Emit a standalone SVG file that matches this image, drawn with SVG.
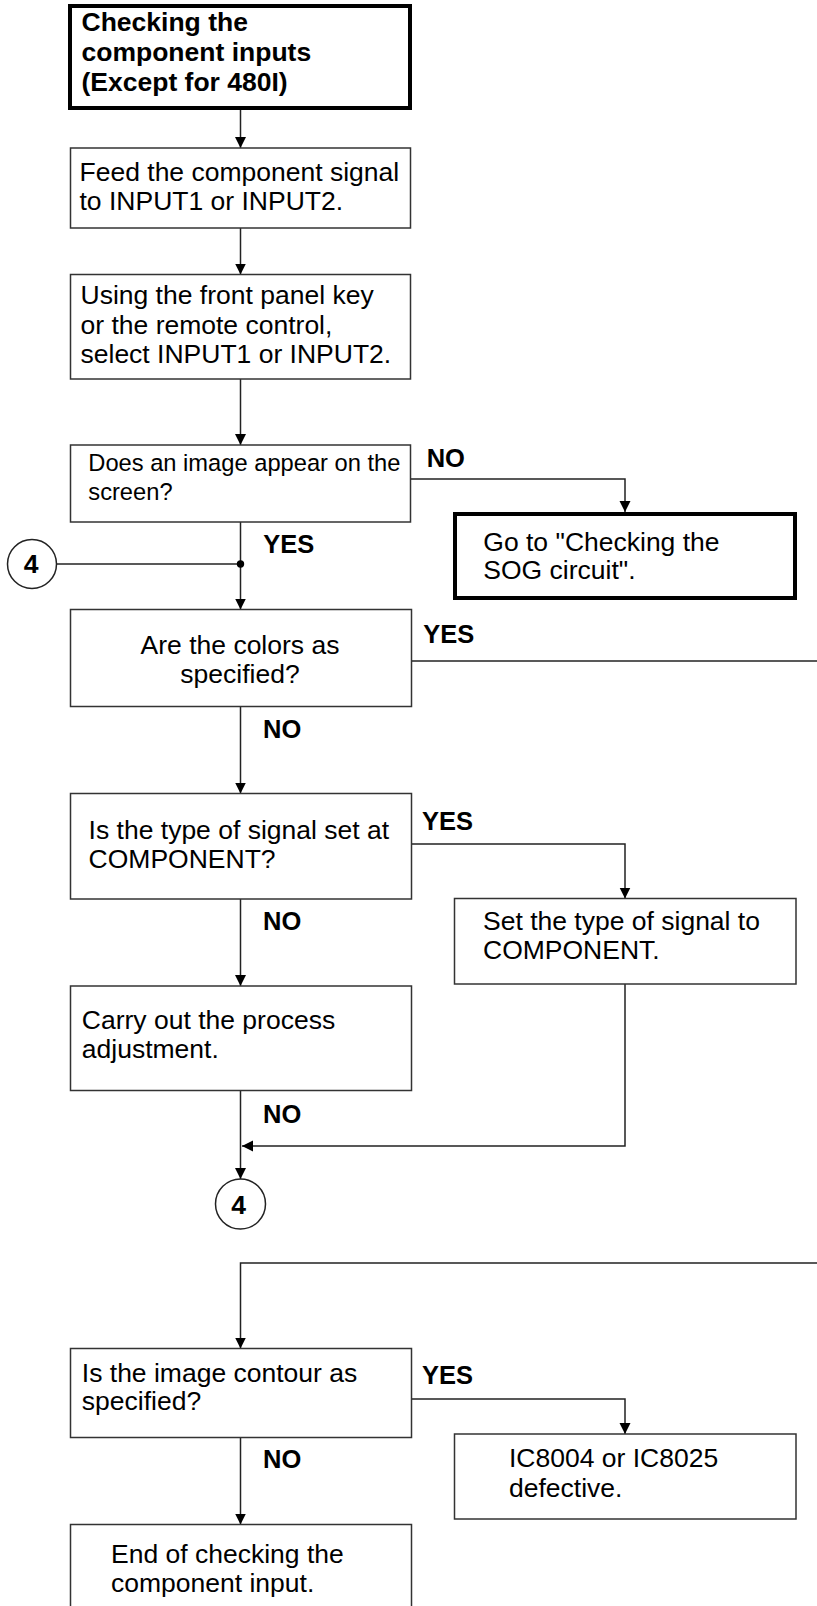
<svg xmlns="http://www.w3.org/2000/svg" width="817" height="1606" viewBox="0 0 817 1606">
<style>
.box{fill:#fff;stroke:#333;stroke-width:1.5}
.thick{fill:#fff;stroke:#000;stroke-width:4}
.t{font-family:"Liberation Sans",Arial,sans-serif;font-size:26.5px;fill:#000}
.s{font-family:"Liberation Sans",Arial,sans-serif;font-size:23.7px;fill:#000}
.b{font-family:"Liberation Sans",Arial,sans-serif;font-size:26.5px;font-weight:bold;fill:#000}
.l{font-family:"Liberation Sans",Arial,sans-serif;font-size:25.5px;font-weight:bold;fill:#000}
.c{fill:none;stroke:#222;stroke-width:1.5}
</style>
<defs>
<marker id="ah" markerUnits="userSpaceOnUse" markerWidth="12" markerHeight="12" refX="11" refY="5.5" orient="auto">
<path d="M0,0 L11,5.5 L0,11 z" fill="#000"/>
</marker>
</defs>
<g id="connectors">
<path class="c" d="M240.5,108 V148" marker-end="url(#ah)"/>
<path class="c" d="M240.5,228 V274.5" marker-end="url(#ah)"/>
<path class="c" d="M240.5,379 V445" marker-end="url(#ah)"/>
<path class="c" d="M411,479 H625 V512" marker-end="url(#ah)"/>
<path class="c" d="M240.5,522 V609.5" marker-end="url(#ah)"/>
<path class="c" d="M57,564 H240.5"/>
<circle cx="240.5" cy="564" r="3.7" fill="#000"/>
<path class="c" d="M411,661 H817"/>
<path class="c" d="M240.5,706.5 V793.5" marker-end="url(#ah)"/>
<path class="c" d="M411,844 H625 V898.5" marker-end="url(#ah)"/>
<path class="c" d="M240.5,899 V986" marker-end="url(#ah)"/>
<path class="c" d="M240.5,1090.5 V1179" marker-end="url(#ah)"/>
<path class="c" d="M625,984 V1146 H242" marker-end="url(#ah)"/>
<path class="c" d="M817,1263 H240.5 V1348.5" marker-end="url(#ah)"/>
<path class="c" d="M411,1399 H625 V1434" marker-end="url(#ah)"/>
<path class="c" d="M240.5,1437.5 V1524.5" marker-end="url(#ah)"/>
<text class="l" x="426.7" y="466.7">NO</text>
<text class="l" x="263.3" y="553.3">YES</text>
<text class="l" x="423.3" y="643">YES</text>
<text class="l" x="263" y="738">NO</text>
<text class="l" x="422" y="830">YES</text>
<text class="l" x="263" y="930">NO</text>
<text class="l" x="263" y="1122.7">NO</text>
<text class="l" x="422" y="1384.3">YES</text>
<text class="l" x="263" y="1468.3">NO</text>
</g>
<g id="title">
<rect class="thick" x="70" y="6" width="340" height="102"/>
<text class="b" x="81.5" y="31">Checking the</text>
<text class="b" x="81.5" y="61">component inputs</text>
<text class="b" x="81.5" y="91">(Except for 480I)</text>
</g>
<g id="feed">
<rect class="box" x="70.5" y="148" width="340" height="80"/>
<text class="t" x="79.5" y="181">Feed the component signal</text>
<text class="t" x="79.5" y="210">to INPUT1 or INPUT2.</text>
</g>
<g id="select">
<rect class="box" x="70.5" y="274.5" width="340" height="104.5"/>
<text class="t" x="80.5" y="304">Using the front panel key</text>
<text class="t" x="80.5" y="333.5">or the remote control,</text>
<text class="t" x="80.5" y="363">select INPUT1 or INPUT2.</text>
</g>
<g id="image-appear">
<rect class="box" x="70.5" y="445" width="340" height="77"/>
<text class="s" x="88.3" y="471">Does an image appear on the</text>
<text class="s" x="88.3" y="500">screen?</text>
</g>
<g id="sog">
<rect class="thick" x="455" y="514" width="340" height="84"/>
<text class="t" x="483.3" y="550.7">Go to "Checking the</text>
<text class="t" x="483.3" y="579.3">SOG circuit".</text>
</g>
<g id="conn4-top">
<circle cx="32" cy="564" r="24.5" fill="#fff" stroke="#222" stroke-width="1.5"/>
<text class="b" x="31" y="572.5" text-anchor="middle">4</text>
</g>
<g id="colors">
<rect class="box" x="70.5" y="609.5" width="341" height="97"/>
<text class="t" x="240" y="654" text-anchor="middle">Are the colors as</text>
<text class="t" x="240" y="683" text-anchor="middle">specified?</text>
</g>
<g id="signal-type">
<rect class="box" x="70.5" y="793.5" width="341" height="105.5"/>
<text class="t" x="88.6" y="839">Is the type of signal set at</text>
<text class="t" x="88.6" y="867.5">COMPONENT?</text>
</g>
<g id="set-type">
<rect class="box" x="454.5" y="898.5" width="341.5" height="85.5"/>
<text class="t" x="483" y="930">Set the type of signal to</text>
<text class="t" x="483" y="959.3">COMPONENT.</text>
</g>
<g id="process">
<rect class="box" x="70.5" y="986" width="341" height="104.5"/>
<text class="t" x="81.8" y="1029">Carry out the process</text>
<text class="t" x="81.8" y="1058">adjustment.</text>
</g>
<g id="conn4-bottom">
<circle cx="240.5" cy="1204" r="25" fill="#fff" stroke="#222" stroke-width="1.5"/>
<text class="b" x="238.5" y="1213.5" text-anchor="middle">4</text>
</g>
<g id="contour">
<rect class="box" x="70.5" y="1348.5" width="341" height="89"/>
<text class="t" x="81.8" y="1381.7">Is the image contour as</text>
<text class="t" x="81.8" y="1410">specified?</text>
</g>
<g id="ic-defective">
<rect class="box" x="454.5" y="1434" width="341.5" height="85"/>
<text class="t" x="509" y="1466.7">IC8004 or IC8025</text>
<text class="t" x="509" y="1496.7">defective.</text>
</g>
<g id="end">
<rect class="box" x="70.5" y="1524.5" width="341" height="100"/>
<text class="t" x="111" y="1562.5">End of checking the</text>
<text class="t" x="111" y="1591.5">component input.</text>
</g>
</svg>
